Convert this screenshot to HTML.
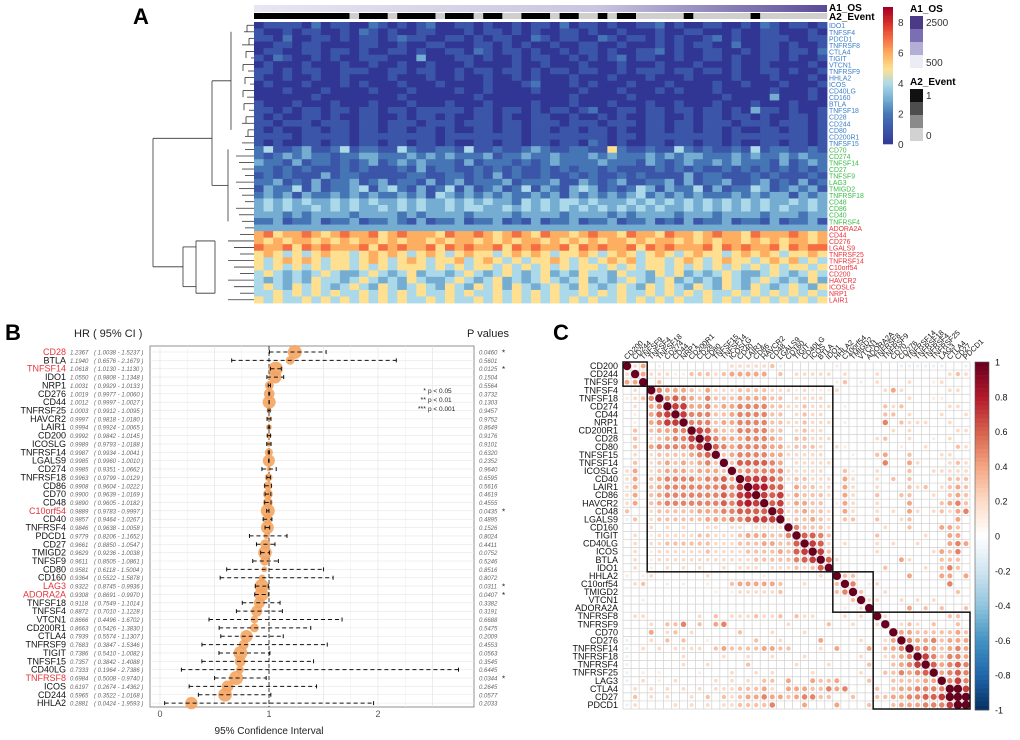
<!DOCTYPE html>
<html><head><meta charset="utf-8"><style>
html,body{margin:0;padding:0;background:#fff;}
svg{display:block;font-family:"Liberation Sans",sans-serif;}
</style></head><body>
<svg id="fig" width="1020" height="740" viewBox="0 0 1020 740">
<text x="133" y="24" font-size="22" font-weight="bold">A</text>
<text x="5" y="340" font-size="22" font-weight="bold">B</text>
<text x="553" y="340" font-size="22" font-weight="bold">C</text>
<g id="gA"></g>
<g id="gB"></g>
<g id="gC"></g>
</svg>
<script>
// ---------- Panel A data ----------
const hmGenes = ["IDO1","TNFSF4","PDCD1","TNFRSF8","CTLA4","TIGIT","VTCN1","TNFRSF9","HHLA2","ICOS","CD40LG","CD160","BTLA","TNFSF18","CD28","CD244","CD80","CD200R1","TNFSF15","CD70","CD274","TNFSF14","CD27","TNFSF9","LAG3","TMIGD2","TNFRSF18","CD48","CD86","CD40","TNFRSF4","ADORA2A","CD44","CD276","LGALS9","TNFRSF25","TNFRSF14","C10orf54","CD200","HAVCR2","ICOSLG","NRP1","LAIR1"];
const hmGroup = "bbbbbbbbbbbbbbbbbbbggggggggggggrrrrrrrrrrr";
const hmRows = [
"011110201100210101200110100101102011010011201001100102101101",
"100101100102101001100010110101001101001000100110001001100010",
"110200110101101211001101011002101100210110101001201001110011",
"001101100001100100110001101010010011001000101011002001101001",
"011001101101001101001102101101001011010011201001100101101102",
"102100101001110003000110100101100101012011001001101001101001",
"010001000100100100100010000100100010001000100010001001000010",
"110101100111001101100101101101011011001011101101101001101001",
"100100100100001000100100100101000100010001000100001000100010",
"010001000101000100010000100012000101000100010000100100010001",
"000100010000100010000100100001000010001000101000100000100010",
"000000100000000100000001000000000100000100000000010000300010",
"100010001000100010001000100001000100010001001000100010001000",
"110101101101101101111101101101011012001101101101101031101001",
"101001101001100101101001101001100100101001100101101101001101",
"110111011101101110111011101101110111011101101101110111011101",
"101001101101101101101001101101101101101001101101101001101101",
"111101111101111111101111111101111111101101111111101111111101",
"101001101101101101101001101101101102101001101101101001101101",
"241123112412211421122141121123211221152112114212112141221121",
"212323221223322232323222312232232223232223232332223232232322",
"322131221212312323222131222121232222322213212322323222131232",
"221212111212111213122112121211212122121111212121121212121212",
"121211131221111122112212131211211212112121111312211121211121",
"223121312231231221312312223122231132123112231312231123121312",
"132241312234134213124131231241321343121243132241312243123231",
"232313223232322323143232323223231323232342323232223232331323",
"343434334343433434334343433243434434333434343434343434334343",
"343433434343343434334344334343434343434343433434343434343343",
"333232333323333232333323333233332333323233332333233332333233",
"223122312231223213122312231213122312231223121312231221312231",
"333333333333333333333333333333333333333333333333333333333333",
"675667656766756766657667656765766567665766576656766576667656",
"656566565656656566565665656566565656566565665656566565656656",
"766757676667576766757676675767667576766757676667576766757677",
"565454565545656545654565545656545565456545654565545656545565",
"545656545545654565455645654545565454565645545654565545656454",
"545454545545454555454545545454545455454545545454545454545545",
"454343454334543453443454345434534354435443545343454334543454",
"434343544345434354334543453434543453434543453434354345434353",
"454354543454354345435435453543454354345435454354354354345435",
"445454545445454545445454454545454454545445454545445454545454",
"545445454545454544545445454545454545445454545445454545454545"];
const hmEvent = "111111111101110111101110110011101100101100000100000010000000";
const hmColorStops = ["#313695","#3b55a8","#4575b4","#74add1","#abd9e9","#fee090","#fdae61","#f46d43","#d73027","#a50026"];

// ---------- Panel B data ----------
const fpGenes = ["CD28","BTLA","TNFSF14","IDO1","NRP1","CD276","CD44","TNFRSF25","HAVCR2","LAIR1","CD200","ICOSLG","TNFRSF14","LGALS9","CD274","TNFRSF18","CD86","CD70","CD48","C10orf54","CD40","TNFRSF4","PDCD1","CD27","TMIGD2","TNFSF9","CD80","CD160","LAG3","ADORA2A","TNFSF18","TNFSF4","VTCN1","CD200R1","CTLA4","TNFRSF9","TIGIT","TNFSF15","CD40LG","TNFRSF8","ICOS","CD244","HHLA2"];
const fpHR = [1.2367,1.1940,1.0618,1.0550,1.0031,1.0019,1.0012,1.0003,0.9997,0.9994,0.9992,0.9989,0.9987,0.9985,0.9985,0.9963,0.9908,0.9900,0.9890,0.9889,0.9857,0.9846,0.9779,0.9661,0.9629,0.9611,0.9581,0.9364,0.9322,0.9308,0.9118,0.8872,0.8666,0.8663,0.7939,0.7683,0.7386,0.7357,0.7333,0.6984,0.6197,0.5965,0.2881];
const fpLo = [1.0038,0.6576,1.0130,0.9808,0.9929,0.9977,0.9997,0.9912,0.9818,0.9924,0.9842,0.9793,0.9934,0.9960,0.9351,0.9799,0.9604,0.9639,0.9605,0.9783,0.9464,0.9638,0.8206,0.8850,0.9236,0.8505,0.6118,0.5522,0.8745,0.8691,0.7549,0.7010,0.4496,0.5426,0.5574,0.3847,0.5410,0.3842,0.1964,0.5008,0.2674,0.3522,0.0424];
const fpHi = [1.5237,2.1679,1.1130,1.1348,1.0133,1.0060,1.0027,1.0095,1.0180,1.0065,1.0145,1.0188,1.0041,1.0010,1.0662,1.0129,1.0222,1.0169,1.0182,0.9997,1.0267,1.0058,1.1652,1.0547,1.0038,1.0861,1.5004,1.5878,0.9936,0.9970,1.1014,1.1228,1.6702,1.3830,1.1307,1.5346,1.0082,1.4088,2.7386,0.9740,1.4362,1.0168,1.9593];
const fpP = [0.0460,0.5601,0.0125,0.1504,0.5564,0.3732,0.1303,0.9457,0.9752,0.8649,0.9176,0.9101,0.6320,0.2352,0.9640,0.6595,0.5616,0.4619,0.4555,0.0435,0.4895,0.1526,0.8024,0.4411,0.0752,0.5246,0.8516,0.8072,0.0311,0.0407,0.3382,0.3191,0.6688,0.5475,0.2009,0.4553,0.0563,0.3545,0.6445,0.0344,0.2645,0.0577,0.2033];
const fpTicks = [0,1,2];

// ---------- Panel C data ----------
const cmGenes = ["CD200","CD244","TNFSF9","TNFSF4","TNFSF18","CD274","CD44","NRP1","CD200R1","CD28","CD80","TNFSF15","TNFSF14","ICOSLG","CD40","LAIR1","CD86","HAVCR2","CD48","LGALS9","CD160","TIGIT","CD40LG","ICOS","BTLA","IDO1","HHLA2","C10orf54","TMIGD2","VTCN1","ADORA2A","TNFRSF8","TNFRSF9","CD70","CD276","TNFRSF14","TNFRSF18","TNFRSF4","TNFRSF25","LAG3","CTLA4","CD27","PDCD1"];
const cmLower = [
"X","2X","44X",".2.X","1235X",".2.45X",".1.467X",".1.4577X",".3.34455X",".3.234557X",
".3.4555567X",".2.23333456X",".3.234343453X","24.2344434443X","24.34555545564X","24.345555555657X","24.3455555556578X","24.34555555565787X","3..233333444556666X","a3.2333333444556777X",
"...2.2.2..22.22.2222X",".2.122222332223444335X",".2.2233333322233344336X",".2.12222223222233334367X",".2.122222222222233333567X",".2.1.2.2.2..2.222.2223236X","1.12......2......1......2.X",".23..1.1..1..3444443..2...3X","...........1.1222223......35X","..a.........................34X",
"...........................1.26X",".22......2.3.2223223.322...2.2.X","...2.335.3.45.......2....3..2..26X","...4.23.2.....3...2...2..........3X","a..2.3.3..1.....3..2....4....2..245X","a.2.2.2222.3433334433...2.4...4.34546X","a......2....2..2..2...2......2..2345X","a......2..2....3.....2...2....3..34577X","a.1.1....1...2..2.2....2.....2..335456X","a.2.1.2....2.2.2.33.4..4334...3..3333443X",
".2.2.2.2.2.22233342.44433545...3.34455556X",".3.2.2..2.3.32344544345533..3..334455667X","a2....2.2.2.2233335...4...4...3..34445557X"];
const cmBoxes = [[0,3],[3,26],[26,31],[31,43]];
const cbTicks = [1,0.8,0.6,0.4,0.2,0,-0.2,-0.4,-0.6,-0.8,-1];

const NS="http://www.w3.org/2000/svg";
function mk(tag, attrs, parent){const e=document.createElementNS(NS,tag);for(const k in attrs)e.setAttribute(k,attrs[k]);parent.appendChild(e);return e;}
function hex2rgb(h){return [parseInt(h.substr(1,2),16),parseInt(h.substr(3,2),16),parseInt(h.substr(5,2),16)];}
function lerpC(stops,t){t=Math.max(0,Math.min(1,t));const n=stops.length-1;const i=Math.min(n-1,Math.floor(t*n));const f=t*n-i;const a=hex2rgb(stops[i]),b=hex2rgb(stops[i+1]);return "rgb("+a.map((v,k)=>Math.round(v+(b[k]-v)*f)).join(",")+")";}

// ================= Panel A =================
(function(){
const g=document.getElementById('gA');
const x0=254,x1=827,y0=22,y1=303;
const nR=hmGenes.length, nC=60;
const cw=(x1-x0)/nC, rh=(y1-y0)/nR;
const xS=c=>x0+c*cw, yS=r=>y0+r*rh;
const valColor=v=>lerpC(hmColorStops,v/9);
const defs=mk('defs',{},g);
const lg=mk('linearGradient',{id:'osGrad',x1:'0',x2:'1',y1:'0',y2:'0'},defs);
mk('stop',{offset:'0','stop-color':'#e8e6f2'},lg);mk('stop',{offset:'0.6','stop-color':'#c9c5e0'},lg);mk('stop',{offset:'1','stop-color':'#5a4a99'},lg);
const os=mk('rect',{x:x0,y:5,width:x1-x0,height:7,fill:'url(#osGrad)'},g);


for(let c=0;c<nC;c++){
  const r=mk('rect',{x:xS(c),y:13,width:cw+0.3,height:6,fill:hmEvent[c]==='1'?'#000':'#cfcfcf'},g);
  
  
}
mk('text',{x:829,y:11,'font-size':10,'font-weight':'bold'},g).textContent='A1_OS';
mk('text',{x:829,y:20,'font-size':10,'font-weight':'bold'},g).textContent='A2_Event';
for(let r=0;r<nR;r++){
  const s=hmRows[r];
  for(let c=0;c<nC;c++){
    const v=parseInt(s[c]||'0');
    const cell=mk('rect',{x:xS(c),y:yS(r),width:cw+0.4,height:rh+0.4,fill:valColor(v)},g);
    
    
  }
  const col=hmGroup[r]==='b'?'#3d7fc9':hmGroup[r]==='g'?'#3dbb4a':'#e8333a';
  const t=mk('text',{x:829,y:yS(r)+rh-0.3,'font-size':6.9,fill:col},g);
  t.textContent=hmGenes[r];
  
  
}
const yc=i=>yS(i)+rh/2;
const dg=mk('g',{stroke:'#333','stroke-width':0.8,fill:'none'},g);


function seg(a,b,c,d){mk('line',{x1:a,y1:b,x2:c,y2:d},dg);}
const bx=[247,244,249,242,246,251,243,248,245,250,243,247,244,249,246,242,248,245,250];
for(let i=0;i<18;i++){seg(254,yc(i),bx[i],yc(i));}
for(let i=0;i<18;i+=2){seg(bx[i],yc(i),bx[i],yc(i+1));}
seg(231,yc(1),231,yc(16));
for(let i=18;i<32;i++){seg(254,yc(i),236+(i%4)*3,yc(i));}
seg(228,yc(19),228,yc(30));
seg(212,(yc(1)+yc(16))/2,212,(yc(19)+yc(30))/2);
seg(231,(yc(1)+yc(16))/2,212,(yc(1)+yc(16))/2);
seg(228,(yc(19)+yc(30))/2,212,(yc(19)+yc(30))/2);
for(let i=32;i<43;i++){seg(254,yc(i),228+(i%3)*6,yc(i));}
seg(215,yc(33),215,yc(41));
seg(196,yc(33),196,yc(41));
seg(183,yc(33)+6,183,yc(40));
seg(183,yc(33)+6,196,yc(33)+6);seg(183,yc(40),196,yc(40));
seg(196,yc(33),215,yc(33));seg(196,yc(41),215,yc(41));
const topY=(yc(1)+yc(16))/2*0.45+(yc(19)+yc(30))/2*0.55;
seg(212,topY,153,topY);
const redY=(yc(33)+6+yc(40))/2;
seg(183,redY,153,redY);
seg(153,topY,153,redY);
const cb=mk('g',{},g);


for(let k=0;k<60;k++){const v=9*(1-k/60);mk('rect',{x:883,y:7+k*(137/60),width:10,height:137/60+0.3,fill:valColor(v)},cb);}
[8,6,4,2,0].forEach(v=>{const y=144-v*15.25;mk('text',{x:898,y:y+4,'font-size':10,fill:'#333'},cb).textContent=v;});
mk('text',{x:910,y:12,'font-size':10,'font-weight':'bold'},g).textContent='A1_OS';
['#4b3a86','#7a6fb3','#b3aed6','#ececf4'].forEach((c,i)=>mk('rect',{x:910,y:16+i*13,width:13,height:13,fill:c},g));
mk('text',{x:926,y:26,'font-size':10,fill:'#333'},g).textContent='2500';
mk('text',{x:926,y:66,'font-size':10,fill:'#333'},g).textContent='500';
mk('text',{x:910,y:85,'font-size':10,'font-weight':'bold'},g).textContent='A2_Event';
['#111','#4d4d4d','#8a8a8a','#d2d2d2'].forEach((c,i)=>mk('rect',{x:910,y:89+i*13,width:13,height:13,fill:c},g));
mk('text',{x:926,y:99,'font-size':10,fill:'#333'},g).textContent='1';
mk('text',{x:926,y:139,'font-size':10,fill:'#333'},g).textContent='0';
})();

// ================= Panel B =================
(function(){
const g=document.getElementById('gB');
const px0=150,px1=474,py0=346,py1=707;
const xS=v=>160+v*109;
const yS=i=>352+i*8.36;
mk('text',{x:74,y:337,'font-size':11,fill:'#222'},g).textContent='HR ( 95% CI )';
mk('text',{x:467,y:337,'font-size':11,fill:'#222'},g).textContent='P  values';
mk('rect',{x:px0,y:py0,width:px1-px0,height:py1-py0,fill:'#fff',stroke:'#777','stroke-width':0.8},g);
for(let v=0;v<=2.5;v+=0.25){mk('line',{x1:xS(v),x2:xS(v),y1:py0,y2:py1,stroke:v%0.5===0?'#e0e0e0':'#f0f0f0','stroke-width':0.6},g);}
for(let i=0;i<fpGenes.length;i++){mk('line',{x1:px0,x2:px1,y1:yS(i),y2:yS(i),stroke:'#e6e6e6','stroke-width':0.6},g);}
mk('line',{x1:xS(1),x2:xS(1),y1:py0,y2:py1,stroke:'#111','stroke-width':0.8,'stroke-dasharray':'4,2'},g);
fpTicks.forEach(t=>{const e=mk('text',{x:xS(t),y:717,'font-size':9,fill:'#555','text-anchor':'middle'},g);e.textContent=t;});
mk('text',{x:269,y:734,'font-size':10,fill:'#222','text-anchor':'middle'},g).textContent='95% Confidence Interval';
const sig=p=>p<0.001?'***':p<0.01?'**':p<0.05?'*':'';
for(let i=0;i<fpGenes.length;i++){
  const y=yS(i), p=fpP[i];
  const red=p<0.05;
  const lab=mk('text',{x:66,y:y+3,'font-size':9,fill:red?'#e8333a':'#111','text-anchor':'end'},g);
  lab.textContent=fpGenes[i];
  
  
  mk('text',{x:70,y:y+2.5,'font-size':6,'font-style':'italic',fill:'#666'},g).textContent=fpHR[i].toFixed(4);
  mk('text',{x:94,y:y+2.5,'font-size':6,'font-style':'italic',fill:'#666'},g).textContent='( '+fpLo[i].toFixed(4)+' - '+fpHi[i].toFixed(4)+' )';
  const r=2.2+5*(1-p);
  const dot=mk('circle',{cx:xS(fpHR[i]),cy:y,r:r,fill:'#f4a460','fill-opacity':0.9},g);
  
  
  const ci=mk('line',{x1:xS(fpLo[i]),x2:xS(fpHi[i]),y1:y,y2:y,stroke:'#111','stroke-width':1,'stroke-dasharray':'4,3'},g);
  
  
  mk('line',{x1:xS(fpLo[i]),x2:xS(fpLo[i]),y1:y-2,y2:y+2,stroke:'#111','stroke-width':1},g);
  mk('line',{x1:xS(fpHi[i]),x2:xS(fpHi[i]),y1:y-2,y2:y+2,stroke:'#111','stroke-width':1},g);
  mk('text',{x:479,y:y+2.5,'font-size':6,'font-style':'italic',fill:'#666'},g).textContent=p.toFixed(4);
  if(sig(p))mk('text',{x:502,y:y+3.5,'font-size':8,fill:'#222'},g).textContent=sig(p);
}
[['*','p < 0.05'],['**','p < 0.01'],['***','p < 0.001']].forEach((s,k)=>{
  mk('text',{x:426,y:393+k*9,'font-size':7,fill:'#222','text-anchor':'end'},g).textContent=s[0];
  mk('text',{x:428,y:393+k*9,'font-size':6.5,fill:'#222'},g).textContent=s[1];
});
})();

// ================= Panel C =================
(function(){
const g=document.getElementById('gC');
const n=cmGenes.length;
const gx0=623,gy0=362,cs=8.07;
const xS=j=>gx0+j*cs, yS=i=>gy0+i*cs;
const posStops=['#ffffff','#fddbc7','#f4a582','#d6604d','#b2182b','#67001f'];
const negStops=['#ffffff','#d1e5f0','#92c5de','#4393c3','#2166ac','#053061'];
function val(i,j){const a=Math.max(i,j),b=Math.min(i,j);if(a===b)return 1;const s=cmLower[a]||'';const ch=s[b]||'.';
  if(ch==='.')return 0;if(ch==='X')return 1;if(ch>='a'&&ch<='c')return -(ch.charCodeAt(0)-96)/10;return parseInt(ch)/10;}
for(let k=0;k<=n;k++){
  mk('line',{x1:xS(0),x2:xS(n),y1:yS(k),y2:yS(k),stroke:'#d0d0d0','stroke-width':0.7},g);
  mk('line',{x1:xS(k),x2:xS(k),y1:yS(0),y2:yS(n),stroke:'#d0d0d0','stroke-width':0.7},g);
}
for(let i=0;i<n;i++){
  const rl=mk('text',{x:618,y:yS(i)+cs-1,'font-size':9,fill:'#111','text-anchor':'end'},g);
  rl.textContent=cmGenes[i];
  
  
  const cx=xS(i)+cs/2;
  const cl=mk('text',{x:cx,y:gy0-2,'font-size':7.5,fill:'#111',transform:'rotate(-45 '+cx+' '+(gy0-2)+')'},g);
  cl.textContent=cmGenes[i];
  
  
  for(let j=0;j<n;j++){
    const v=val(i,j);
    if(v===0)continue;
    const col=v>0?lerpC(posStops,v):lerpC(negStops,-v);
    const c=mk('circle',{cx:xS(j)+cs/2,cy:yS(i)+cs/2,r:1.3+2.9*Math.abs(v),fill:col},g);
    
    
  }
}
cmBoxes.forEach(b=>{const r=mk('rect',{x:xS(b[0]),y:yS(b[0]),width:(b[1]-b[0])*cs,height:(b[1]-b[0])*cs,fill:'none',stroke:'#111','stroke-width':1.5},g);
  
  });
const cb=mk('g',{},g);


const cbTop=362,cbBot=710,N=80;
for(let k=0;k<N;k++){const v=1-2*(k+0.5)/N;mk('rect',{x:975,y:cbTop+k*(cbBot-cbTop)/N,width:14,height:(cbBot-cbTop)/N+0.3,fill:v>0?lerpC(posStops,v):lerpC(negStops,-v)},cb);}
mk('rect',{x:975,y:cbTop,width:14,height:cbBot-cbTop,fill:'none',stroke:'#555','stroke-width':0.6},cb);
cbTicks.forEach(t=>{const y=cbTop+(1-t)/2*(cbBot-cbTop);mk('text',{x:995,y:y+3.5,'font-size':9,fill:'#111'},cb).textContent=t;});
})();
</script>
</body></html>
